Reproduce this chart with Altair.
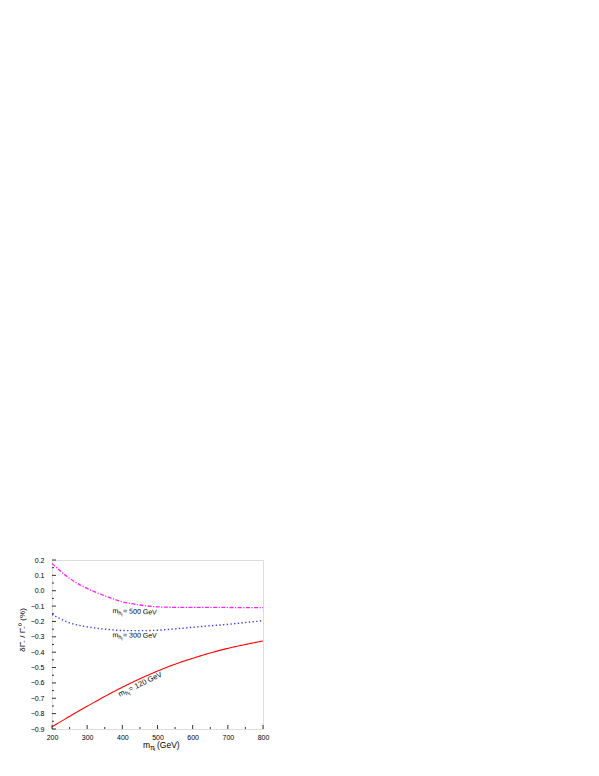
import altair as alt
import pandas as pd

# ---- data ----
mass = [200, 250, 300, 350, 400, 450, 500, 550, 600, 650, 700, 750, 800]
red_120 = [-0.885, -0.818, -0.752, -0.688, -0.628, -0.573, -0.523, -0.478, -0.44, -0.405, -0.375, -0.35, -0.327]
blue_300 = [-0.154, -0.209, -0.235, -0.25, -0.259, -0.26, -0.257, -0.248, -0.238, -0.228, -0.219, -0.207, -0.195]
mag_500 = [0.178, 0.08, 0.015, -0.033, -0.072, -0.093, -0.105, -0.108, -0.109, -0.109, -0.109, -0.11, -0.11]

x_major = [200, 300, 400, 500, 600, 700, 800]
x_minor = [250, 350, 450, 550, 650, 750]
y_major = [0.2, 0.1, 0.0, -0.1, -0.2, -0.3, -0.4, -0.5, -0.6, -0.7, -0.8, -0.9]
y_minor = [0.15, 0.05, -0.05, -0.15, -0.25, -0.35, -0.45, -0.55, -0.65, -0.75, -0.85]

label_tail = ["= 500 GeV", "= 300 GeV", "= 120 GeV"]
label_x = [372, 372, 393]
label_y = [-0.145, -0.302, -0.69]
label_angle = [2, 1, 334]
label_size = [7, 7, 7.5]

FONT = "Liberation Sans"
W, H = 211, 169

xs = alt.Scale(domain=[200, 800], nice=False, zero=False)
ys = alt.Scale(domain=[-0.9, 0.2], nice=False, zero=False)

x_axis = alt.Axis(values=x_major, format="d", ticks=False, grid=False, domain=False, labelFlush=False,
                  labelFont=FONT, labelFontSize=7, labelPadding=4, title=None, labelColor="black")
y_axis = alt.Axis(values=y_major, format=".1f", ticks=False, grid=False, domain=False, labelFlush=False,
                  labelFont=FONT, labelFontSize=7, labelPadding=8, title=None, labelColor="black")

X = lambda: alt.X("m:Q", scale=xs, axis=x_axis)
Y = lambda: alt.Y("v:Q", scale=ys, axis=y_axis)


def curve(vals, color, dash, width):
    df = pd.DataFrame({"m": mass, "v": vals})
    return alt.Chart(df).mark_line(color=color, strokeDash=dash, strokeWidth=width,
                                   clip=True, interpolate="monotone").encode(x=X(), y=Y())


red_line = curve(red_120, "#ff0000", [1, 0], 1.1)
blue_line = curve(blue_300, "#3333ff", [1.3, 2.4], 1.4)
mag_line = curve(mag_500, "#ff22ff", [4, 1.5, 1.2, 1.5], 1.3)


def ticks(vals, horizontal, length):
    if horizontal:
        df = pd.DataFrame({"m": vals})
        enc = dict(x=X(), y=alt.value(H), y2=alt.value(H - length))
    else:
        df = pd.DataFrame({"v": vals})
        enc = dict(y=Y(), x=alt.value(0), x2=alt.value(length))
    return alt.Chart(df).mark_rule(color="black", strokeWidth=0.8).encode(**enc)


tick_layers = [ticks(x_major, True, 4), ticks(x_minor, True, 2),
               ticks(y_major, False, 4), ticks(y_minor, False, 2)]


# pieces: (text, font size, advance along baseline, drop below baseline) -- dx/dy act in the rotated frame
def label_pieces(tail, fs):
    k = fs / 7.0
    return [("m", fs, 0, 0), ("h", 5.5 * k, 5.8 * k, 1.6 * k), ("t", 4.5 * k, 8.9 * k, 3.0 * k),
            (tail, fs, 10.6 * k, 0)]


lab_layers = []
for tail, lx, ly, la, fsz in zip(label_tail, label_x, label_y, label_angle, label_size):
    for txt, fs, d, p in label_pieces(tail, fsz):
        lab_layers.append(
            alt.Chart(pd.DataFrame({"m": [lx], "v": [ly], "t": [txt]})).mark_text(
                font=FONT, fontSize=fs, color="black", angle=la, align="left",
                baseline="alphabetic", dx=d, dy=p
            ).encode(x=X(), y=Y(), text="t:N")
        )

# x axis title "m_{pi_t} (GeV)" from pieces
xt_pieces = [("m", 8.5, 0, 0), ("π", 6.5, 7.1, 1.6), ("t", 5, 10.8, 3.2), ("(GeV)", 8.5, 14.0, 0)]
title_layers = []
for txt, fs, d, p in xt_pieces:
    title_layers.append(
        alt.Chart(pd.DataFrame({"t": [txt]})).mark_text(
            font=FONT, fontSize=fs, color="black", align="left", baseline="alphabetic"
        ).encode(x=alt.value(91 + d), y=alt.value(188 + p), text="t:N")
    )

ytitle = alt.Chart(pd.DataFrame({"t": ["δΓ̂₋ / Γ̂₋⁰    (%)"]})).mark_text(
    font=FONT, fontSize=8, color="black", angle=270, align="center", baseline="middle"
).encode(x=alt.value(-29), y=alt.value(70), text="t:N")

chart = alt.layer(
    red_line, blue_line, mag_line,
    *tick_layers, *lab_layers, *title_layers, ytitle,
).properties(
    width=W, height=H,
    autosize=alt.AutoSizeParams(type="none"),
    padding={"left": 44, "top": 552, "right": 20, "bottom": 30},
).configure_view(stroke="black", strokeWidth=1).configure(background="white")

chart.save("out.html", embed_options={"renderer": "svg", "actions": False})
